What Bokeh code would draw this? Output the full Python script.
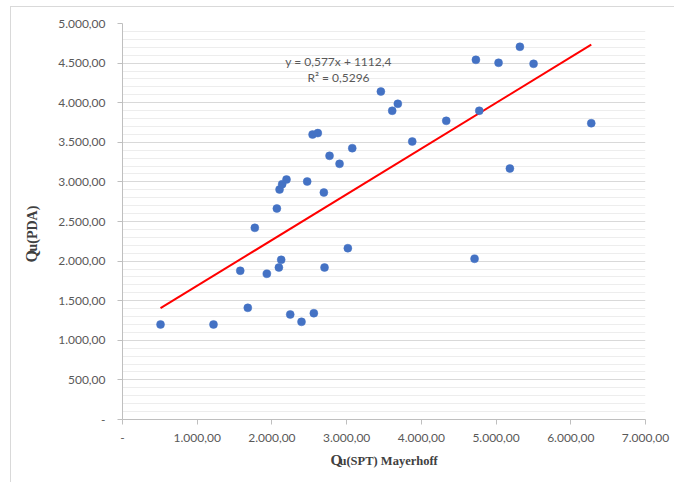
from bokeh.plotting import figure
from bokeh.models import Range1d, FixedTicker, Label
from bokeh.embed import file_html
from bokeh.resources import INLINE
import math

# Data
qu_spt = [509, 1218, 1576, 1677, 1932, 2093, 2124, 2245, 2396, 2561, 2704,
          1771, 2066, 2102, 2137, 2195, 2472, 2695, 2544, 2614, 2771, 2905,
          3075, 3458, 3610, 3685, 3878, 4333, 4730, 4775, 5033, 5319, 5502,
          5185, 6274, 3016, 4712]
qu_pda = [1200, 1200, 1878, 1410, 1840, 1919, 2016, 1326, 1233, 1342, 1919,
          2420, 2664, 2904, 2971, 3030, 3005, 2866, 3598, 3616, 3329, 3228,
          3426, 4141, 3898, 3986, 3510, 3771, 4541, 3898, 4504, 4706, 4491,
          3169, 3741, 2163, 2029]
slope = 0.577
intercept = 1112.4
r2_text = "R² = 0,5296"
eq_text = "y = 0,577x + 1112,4"
x_ticks = [0, 1000, 2000, 3000, 4000, 5000, 6000, 7000]
x_tick_labels = ["-", "1.000,00", "2.000,00", "3.000,00", "4.000,00",
                 "5.000,00", "6.000,00", "7.000,00"]
y_ticks = [0, 500, 1000, 1500, 2000, 2500, 3000, 3500, 4000, 4500, 5000]
y_tick_labels = ["-", "500,00", "1.000,00", "1.500,00", "2.000,00", "2.500,00",
                 "3.000,00", "3.500,00", "4.000,00", "4.500,00", "5.000,00"]
y_minor = [v for v in range(0, 5001, 100) if v % 500 != 0]

p = figure(width=664, height=476, output_backend="svg", toolbar_location=None,
           x_range=Range1d(0, 7000), y_range=Range1d(0, 5000),
           min_border_left=111, min_border_right=30, min_border_top=16,
           min_border_bottom=64)
p.styles = {"margin-top": "6px", "margin-left": "10px",
            "border-top": "1px solid #d9d9d9", "border-left": "1px solid #d9d9d9"}
p.outline_line_color = None
p.background_fill_color = "white"
p.border_fill_color = "white"

TICK_FONT = "Lato"
TICK_COLOR = "#595959"

p.xaxis.ticker = FixedTicker(ticks=x_ticks)
p.xaxis.major_label_overrides = {t: l for t, l in zip(x_ticks, x_tick_labels)}
p.yaxis.ticker = FixedTicker(ticks=y_ticks, minor_ticks=y_minor)
p.yaxis.major_label_overrides = {t: l for t, l in zip(y_ticks, y_tick_labels)}

for ax in (p.xaxis, p.yaxis):
    ax.axis_line_color = "#bfbfbf"
    ax.axis_line_width = 1
    ax.major_tick_line_color = "#bfbfbf"
    ax.major_tick_out = 5
    ax.major_tick_in = 0
    ax.minor_tick_line_color = None
    ax.major_label_text_font = TICK_FONT
    ax.major_label_text_font_size = "12px"
    ax.major_label_text_color = TICK_COLOR
    ax.axis_label = None
p.xaxis.major_label_standoff = 9
p.yaxis.major_label_standoff = 12

p.xgrid.grid_line_color = None
p.ygrid.grid_line_color = "#d9d9d9"
p.ygrid.minor_grid_line_color = "#ededed"
p.ygrid.ticker = FixedTicker(ticks=y_ticks, minor_ticks=y_minor)

# trendline over the data range
x0, x1 = min(qu_spt), max(qu_spt)
p.line([x0, x1], [slope * x0 + intercept, slope * x1 + intercept],
       line_color="#ff0000", line_width=2)

p.scatter(qu_spt, qu_pda, size=8, fill_color="#4472c4", line_color="#4472c4",
          line_width=0.5)

# equation labels
p.add_layout(Label(x=216, y=358, x_units="screen", y_units="screen",
                   text=eq_text, text_align="center", text_baseline="middle",
                   text_font=TICK_FONT, text_font_size="12px", text_color=TICK_COLOR))
p.add_layout(Label(x=216, y=342, x_units="screen", y_units="screen",
                   text=r2_text, text_align="center", text_baseline="middle",
                   text_font=TICK_FONT, text_font_size="12px", text_color=TICK_COLOR))

# axis titles (Q large + subscript) placed in the side panels
SERIF = "Liberation Serif"
TITLE_COLOR = "#404040"
p.add_layout(Label(x=208, y=1, x_units="screen", y_units="screen", text="Q",
                   text_baseline="alphabetic", text_font=SERIF,
                   text_font_style="bold", text_font_size="15px", text_color=TITLE_COLOR), "below")
p.add_layout(Label(x=217, y=14, x_units="screen", y_units="screen",
                   text="u(SPT) Mayerhoff", text_baseline="alphabetic",
                   text_font=SERIF, text_font_style="bold", text_font_size="12.5px",
                   text_color=TITLE_COLOR), "below")
p.add_layout(Label(x=-7, y=157, x_units="screen", y_units="screen", text="Q",
                   angle=math.pi / 2, text_baseline="alphabetic", text_font=SERIF,
                   text_font_style="bold", text_font_size="16px", text_color=TITLE_COLOR), "left")
p.add_layout(Label(x=9, y=168, x_units="screen", y_units="screen",
                   text="u(PDA)", angle=math.pi / 2, text_baseline="alphabetic",
                   text_font=SERIF, text_font_style="bold", text_font_size="14px",
                   text_color=TITLE_COLOR), "left")

open("out.html", "w").write(file_html(p, INLINE))
